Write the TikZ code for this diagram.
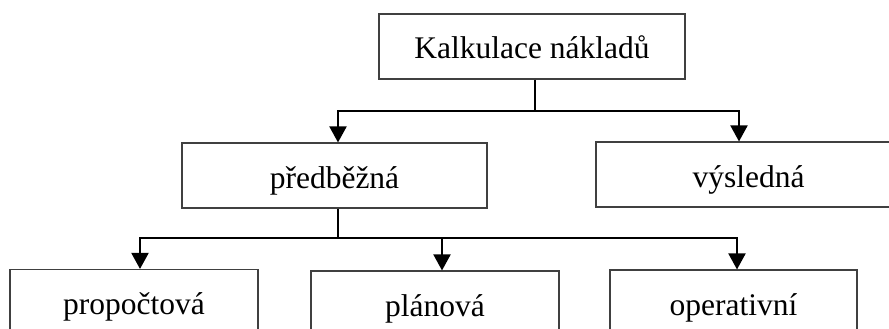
\documentclass[tikz,border=0pt]{standalone}
\usepackage{fontspec}
\setmainfont{Liberation Serif}
\usetikzlibrary{arrows.meta}
\begin{document}
\begin{tikzpicture}[x=1pt,y=-1pt,
  box/.style={draw=black!75,line width=1.1pt,rectangle,inner sep=0pt,
    minimum height=65pt,text height=27pt,text depth=2pt,
    font=\fontsize{31.5}{36}\selectfont},
  conn/.style={line width=2pt,black},
  arr/.style={conn,-{Triangle[width=17pt,length=16pt]}}]
\useasboundingbox (0,0) rectangle (889,329);
\begin{scope}
\clip (0,0) rectangle (889,329);
\node[box,minimum width=306pt] (top) at (532,46.5) {Kalkulace nákladů};
\node[box,minimum width=305pt] (pred) at (334.5,175.5) {předběžná};
\node[box,minimum width=305pt] (vysl) at (748.5,174.5) {výsledná};
\node[box,minimum width=248pt] (prop) at (134,302) {propočtová};
\node[box,minimum width=248pt] (plan) at (435,303.5) {plánová};
\node[box,minimum width=247pt] (oper) at (733.5,302.5) {operativní};
\end{scope}
\coordinate (j1) at (535,111);
\coordinate (j2) at (338,238);
\coordinate (a1) at (338,111);
\coordinate (a2) at (739,111);
\coordinate (b1) at (140,238);
\coordinate (b2) at (442,238);
\coordinate (b3) at (737,238);
\draw[conn] (top.south -| j1) -- (j1);
\draw[arr] (j1) -- (a1) -- (pred.north -| a1);
\draw[arr] (j1) -- (a2) -- (vysl.north -| a2);
\draw[conn] (pred.south -| j2) -- (j2);
\draw[arr] (j2) -- (b1) -- (prop.north -| b1);
\draw[arr] (j2) -- (b2) -- (plan.north -| b2);
\draw[arr] (j2) -- (b3) -- (oper.north -| b3);
\end{tikzpicture}
\end{document}
